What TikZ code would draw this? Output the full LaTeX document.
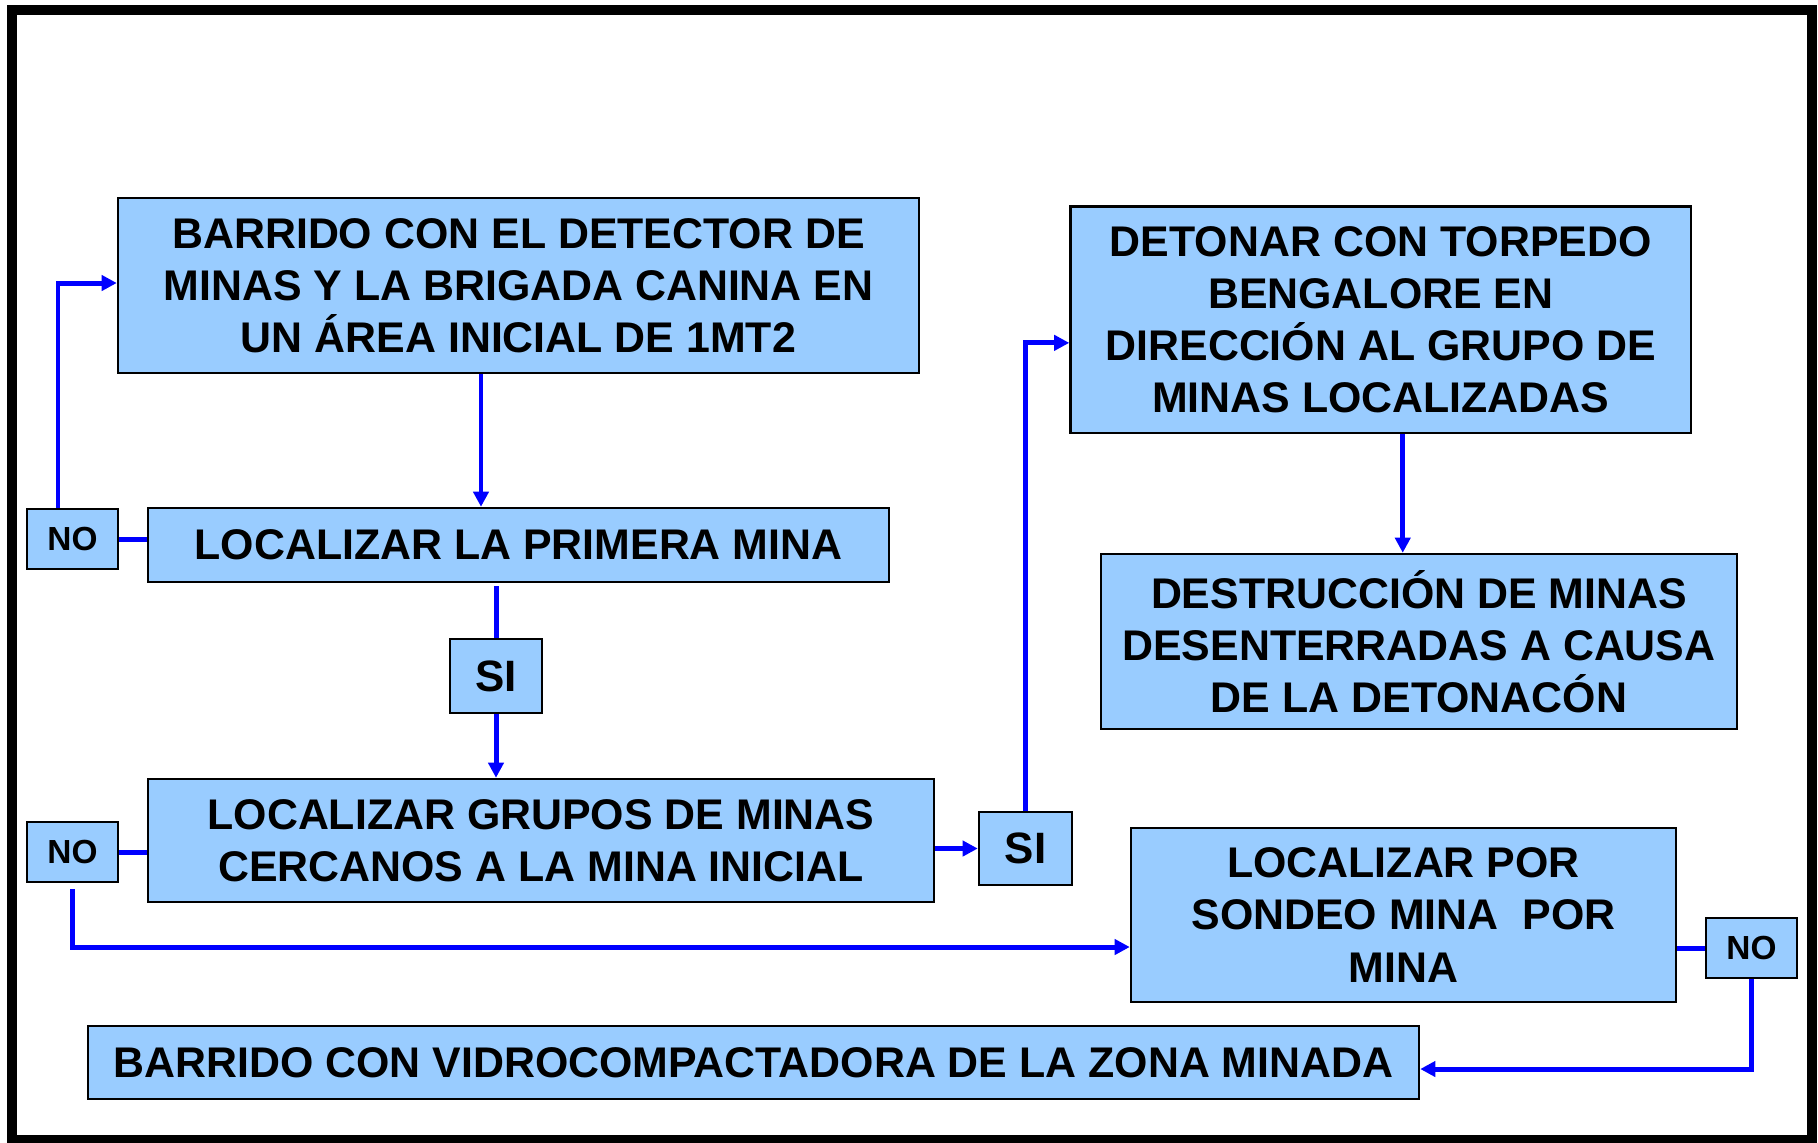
\documentclass[tikz,border=0pt]{standalone}
\usepackage{fontspec}
\setmainfont{Liberation Sans}
\usepackage{xcolor}
\usepackage{tikz}
\usetikzlibrary{arrows.meta, positioning, calc}
\definecolor{boxblue}{HTML}{99CCFF}
\tikzset{block/.style={rectangle,draw,fill=boxblue,align=center,line width=0.7pt,inner sep=0pt,font=\fontsize{12.2}{14.8}\selectfont\bfseries},
         answer/.style={rectangle,draw,fill=boxblue,align=center,line width=0.7pt,inner sep=0pt,minimum width=0.91cm,minimum height=0.60cm,font=\fontsize{9.5}{10}\selectfont\bfseries},
         yes/.style={answer,minimum width=0.92cm,minimum height=0.74cm,font=\fontsize{12.5}{13}\selectfont\bfseries},
         link/.style={blue,line width=1.42pt},
         arrow/.style={-{Triangle[length=4.3pt,width=4.3pt]},blue,line width=1.42pt}}

\begin{document}
\begin{tikzpicture}[x=1cm,y=1cm]
    \useasboundingbox (0,0) rectangle (18.18,-11.42);
    % Frame
    \draw[line width=0.1cm] (0.12,-0.10) rectangle (18.12,-11.40);
    % Left column
    \node (barrido) at (5.185,-2.855) [block,minimum width=8.01cm,minimum height=1.75cm]{BARRIDO CON EL DETECTOR DE\\MINAS Y LA BRIGADA CANINA EN\\UN ÁREA INICIAL DE 1MT2};
    \node (primera) at (5.185,-5.45) [block,minimum width=7.41cm,minimum height=0.74cm]{LOCALIZAR LA PRIMERA MINA};
    \node (no1) at (0.725,-5.39) [answer]{NO};
    \node (si1) at (4.96,-6.76) [yes]{SI};
    \node (grupos) at (5.41,-8.405) [block,minimum width=7.86cm,minimum height=1.23cm]{LOCALIZAR GRUPOS DE MINAS\\CERCANOS A LA MINA INICIAL};
    \node (no2) at (0.725,-8.52) [answer]{NO};
    \node (si2) at (10.255,-8.485) [yes,minimum width=0.93cm,minimum height=0.73cm]{SI};
    % Right column
    \node (torpedo) at (13.8075,-3.1985) [block,minimum width=6.205cm,minimum height=2.265cm]{DETONAR CON TORPEDO\\BENGALORE EN\\DIRECCIÓN AL GRUPO DE\\MINAS LOCALIZADAS};
    \node (destruccion) at (14.19,-6.415) [block,minimum width=6.36cm,minimum height=1.75cm]{DESTRUCCIÓN DE MINAS\\DESENTERRADAS A CAUSA\\DE LA DETONACÓN};
    \node (sondeo) at (14.035,-9.15) [block,minimum width=5.45cm,minimum height=1.74cm]{LOCALIZAR POR\\SONDEO MINA\ \ POR\\MINA};
    \node (no3) at (17.515,-9.48) [answer]{NO};
    \node (vibro) at (7.535,-10.625) [block,minimum width=13.31cm,minimum height=0.73cm]{BARRIDO CON VIDROCOMPACTADORA DE LA ZONA MINADA};
    % Connectors
    \draw[arrow] ([xshift=-3.75mm]barrido.south) -- ([xshift=-3.75mm]barrido.south |- primera.north);
    \draw[arrow] ([xshift=-1.45mm]no1.north) |- ([yshift=0.25mm]barrido.west);
    \draw[link] (no1.east) -- (no1.east -| primera.west);
    \draw[link] (si1.north) -- ([yshift=-0.3mm]si1.north |- primera.south);
    \draw[arrow] (si1.south) -- (si1.south |- grupos.north);
    \draw[link] (no2.east) -- (no2.east -| grupos.west);
    \draw[arrow] ([yshift=-0.6mm]no2.south) |- ([yshift=-3.2mm]sondeo.west);
    \draw[arrow] (grupos.east |- si2.west) -- (si2.west);
    \draw[arrow] (si2.north) |- ([yshift=-2.3mm]torpedo.west);
    \draw[arrow] ([xshift=2.2mm]torpedo.south) -- ([xshift=2.2mm]torpedo.south |- destruccion.north);
    \draw[link] (sondeo.east |- no3.west) -- (no3.west);
    \draw[arrow] (no3.south) |- ([yshift=-0.65mm]vibro.east);
  \end{tikzpicture}
\end{document}
